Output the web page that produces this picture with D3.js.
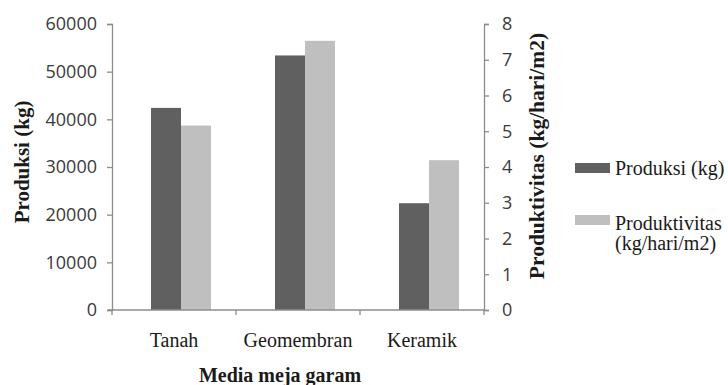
<!DOCTYPE html>
<html>
<head>
<meta charset="utf-8">
<script src="https://cdn.jsdelivr.net/npm/d3@7"></script>
<style>
  html, body { margin: 0; padding: 0; background: #fff; }
  svg { display: block; }
</style>
</head>
<body>
<svg id="chart" width="728" height="385"></svg>
<script>
// Salt table media and their measured output
const categories = ["Tanah", "Geomembran", "Keramik"];
const produksi = [42400, 53400, 22400];          // kg
const produktivitas = [5.16, 7.53, 4.19];        // kg/hari/m2
const leftTicks = [0, 10000, 20000, 30000, 40000, 50000, 60000];
const rightTicks = [0, 1, 2, 3, 4, 5, 6, 7, 8];
const seriesNames = ["Produksi (kg)", ["Produktivitas", "(kg/hari/m2)"]];

const W = 728, H = 385;
const plot = { left: 112, right: 484, top: 24, bottom: 310 };
const colDark = "#606060", colLight = "#bfbfbf";
const axisCol = "#8c8c8c";
const tickFont = "'Open Sans', sans-serif";
const serif = "'Liberation Serif', 'Times New Roman', serif";

const svg = d3.select("#chart");

const x = d3.scaleBand().domain(categories).range([plot.left, plot.right]);
const yL = d3.scaleLinear().domain([0, 60000]).range([plot.bottom, plot.top]);
const yR = d3.scaleLinear().domain([0, 8]).range([plot.bottom, plot.top]);

// bar pair sits slightly right of the category centre
const pairShift = 7;
const barW = 30;
const inner = d3.scaleBand().domain([0, 1]).range([-barW, barW]);

const g = svg.append("g");

// bars: production on left scale, productivity on right scale
g.selectAll("rect.prod").data(categories).join("rect")
  .attr("class", "prod")
  .attr("x", (d) => x(d) + x.bandwidth() / 2 + pairShift + inner(0))
  .attr("width", inner.bandwidth())
  .attr("y", (d, i) => yL(produksi[i]))
  .attr("height", (d, i) => yL(0) - yL(produksi[i]))
  .attr("fill", colDark);

g.selectAll("rect.pv").data(categories).join("rect")
  .attr("class", "pv")
  .attr("x", (d) => x(d) + x.bandwidth() / 2 + pairShift + inner(1))
  .attr("width", inner.bandwidth())
  .attr("y", (d, i) => yR(produktivitas[i]))
  .attr("height", (d, i) => yR(0) - yR(produktivitas[i]))
  .attr("fill", colLight);

function styleAxis(sel) {
  sel.select(".domain").attr("stroke", axisCol).attr("stroke-width", 1.3);
  sel.selectAll(".tick line").attr("stroke", axisCol).attr("stroke-width", 1.3);
}

// left axis
const axL = svg.append("g").attr("transform", `translate(${plot.left},0)`)
  .call(d3.axisLeft(yL).tickValues(leftTicks).tickFormat(d3.format("d")).tickSizeInner(5).tickSizeOuter(5).tickPadding(10));
styleAxis(axL);
axL.selectAll(".tick text").attr("font-family", tickFont).attr("font-size", 18).attr("fill", "#3a3a3a");

// right axis
const axR = svg.append("g").attr("transform", `translate(${plot.right},0)`)
  .call(d3.axisRight(yR).tickValues(rightTicks).tickSizeInner(5).tickSizeOuter(5).tickPadding(13));
styleAxis(axR);
axR.selectAll(".tick text").attr("font-family", tickFont).attr("font-size", 18).attr("fill", "#3a3a3a");

// category axis with boundary ticks
const bounds = categories.map((c) => x(c)).concat([plot.right]);
const axB = svg.append("g").attr("transform", `translate(0,${plot.bottom})`);
axB.append("line").attr("x1", plot.left - 4).attr("x2", plot.right)
  .attr("stroke", axisCol).attr("stroke-width", 1.3);
axB.selectAll("line.bt").data(bounds).join("line")
  .attr("class", "bt")
  .attr("x1", (d) => d).attr("x2", (d) => d).attr("y1", 0).attr("y2", 5)
  .attr("stroke", axisCol).attr("stroke-width", 1.3);
axB.selectAll("text").data(categories).join("text")
  .attr("x", (d) => x(d) + x.bandwidth() / 2)
  .attr("y", 37)
  .attr("text-anchor", "middle")
  .attr("font-family", serif).attr("font-size", 20).attr("fill", "#1a1a1a")
  .text((d) => d);

// axis titles
svg.append("text")
  .attr("x", 280).attr("y", 382)
  .attr("text-anchor", "middle")
  .attr("font-family", serif).attr("font-size", 20).attr("font-weight", "bold").attr("fill", "#1a1a1a")
  .text("Media meja garam");

svg.append("text")
  .attr("transform", "translate(29,162) rotate(-90)")
  .attr("text-anchor", "middle")
  .attr("font-family", serif).attr("font-size", 21).attr("font-weight", "bold").attr("fill", "#1a1a1a")
  .text("Produksi (kg)");

svg.append("text")
  .attr("transform", "translate(544,156) rotate(-90)")
  .attr("text-anchor", "middle")
  .attr("font-family", serif).attr("font-size", 21.5).attr("font-weight", "bold").attr("fill", "#1a1a1a")
  .text("Produktivitas (kg/hari/m2)");

// legend
const legend = svg.append("g");
const legendRows = [
  { name: seriesNames[0], color: colDark, swatchY: 163, textY: 175 },
  { name: seriesNames[1], color: colLight, swatchY: 215, textY: 230 }
];
legendRows.forEach((r) => {
  legend.append("rect").attr("x", 575).attr("y", r.swatchY).attr("width", 35).attr("height", 10).attr("fill", r.color);
  const lines = Array.isArray(r.name) ? r.name : [r.name];
  const t = legend.append("text").attr("font-family", serif).attr("font-size", 20).attr("fill", "#1a1a1a");
  lines.forEach((ln, i) => {
    t.append("tspan").attr("x", 615).attr("y", r.textY + i * 20).text(ln);
  });
});
</script>
</body>
</html>
